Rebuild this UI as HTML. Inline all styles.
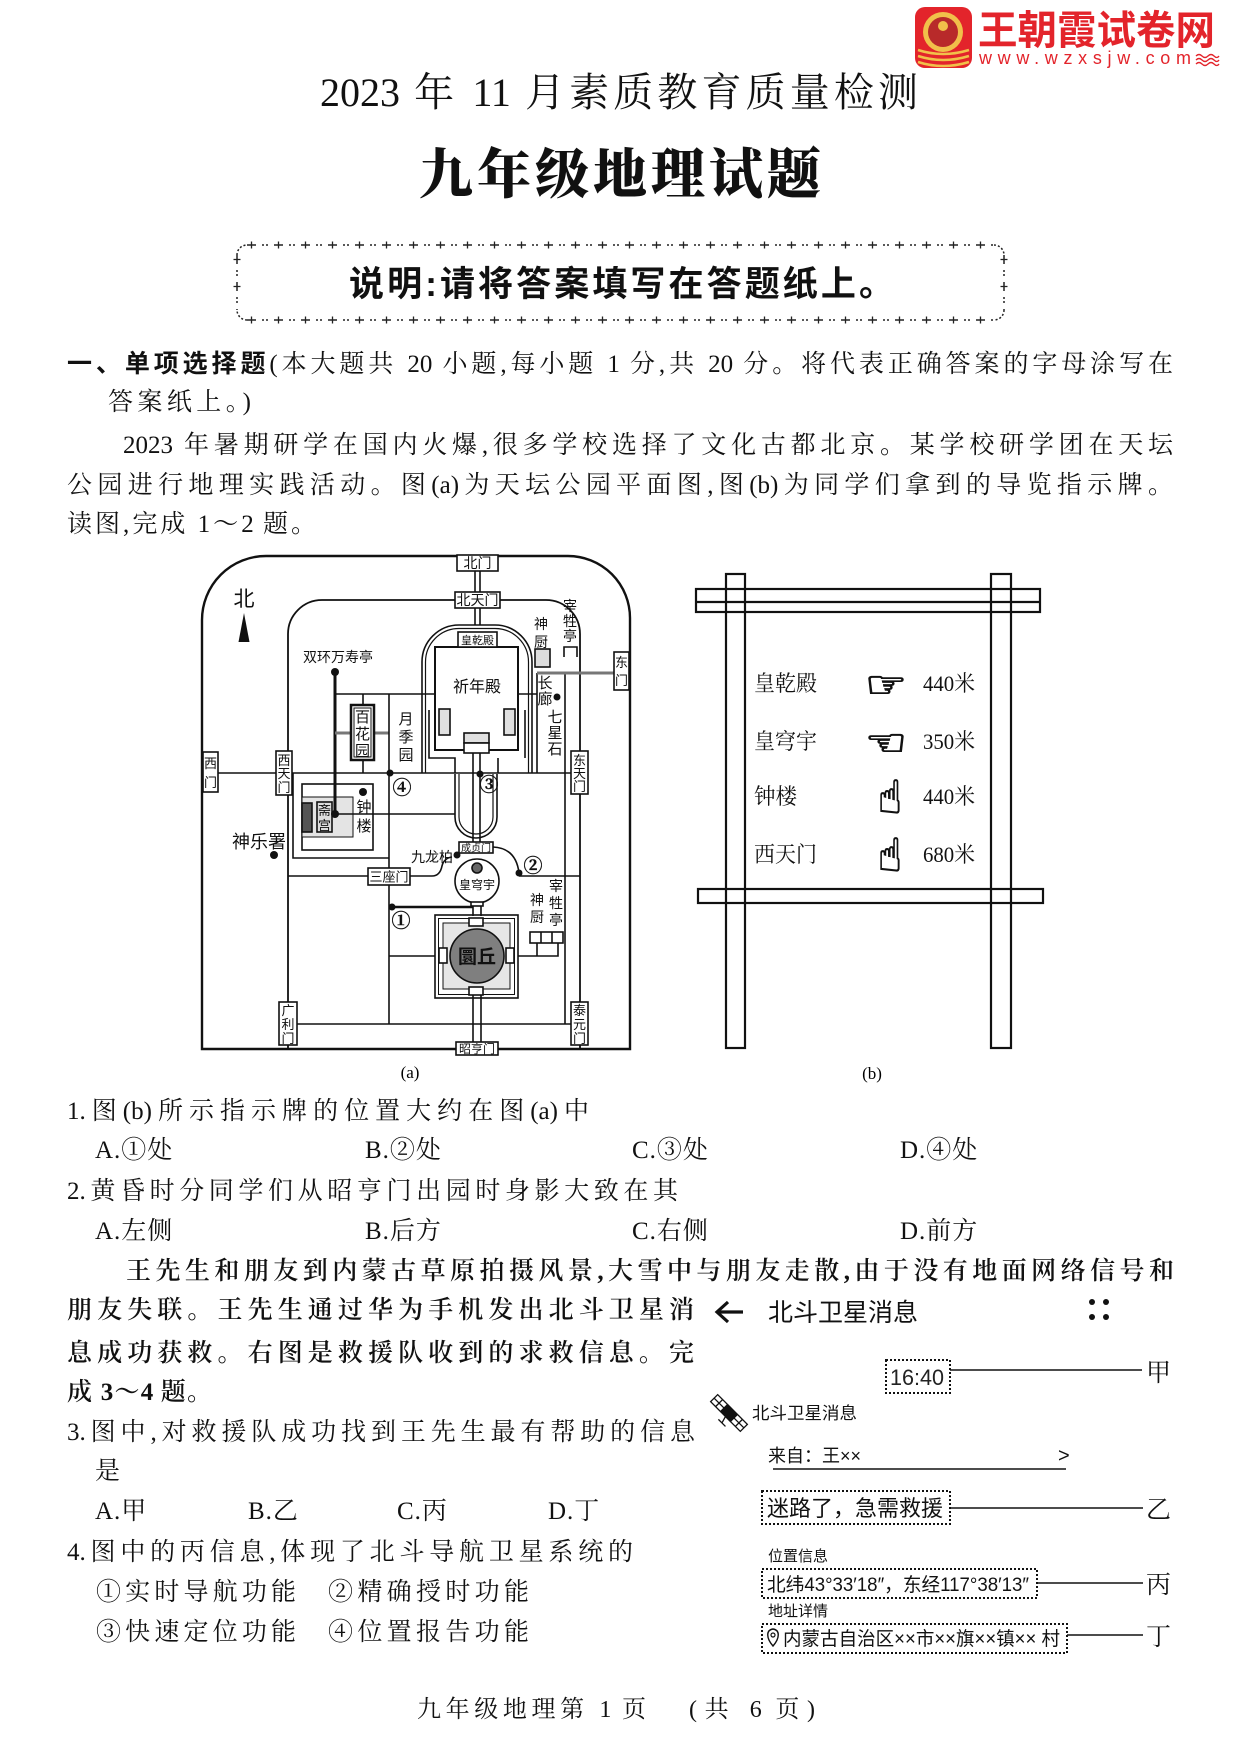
<!DOCTYPE html>
<html><head><meta charset="utf-8">
<style>
html,body{margin:0;padding:0;background:#fff;}
#pg{position:relative;width:1240px;height:1753px;overflow:hidden;background:#fff;}
svg{position:absolute;left:0;top:0;}
.t{position:absolute;line-height:1;font-size:25px;font-family:"Liberation Serif","Noto Serif CJK SC",serif;color:#111;text-align:justify;text-align-last:justify;}
.o{position:absolute;line-height:1;font-size:25px;font-family:"Liberation Serif","Noto Serif CJK SC",serif;color:#111;letter-spacing:1px;white-space:nowrap;}
.h{font-family:"Liberation Sans","Noto Sans CJK SC",sans-serif;font-weight:700;}
.w{font-weight:600;}
.s{font-family:"Liberation Serif","Noto Serif CJK SC",serif;}
.k{font-family:"Liberation Sans","Noto Sans CJK SC",sans-serif;}
.c{font-family:"Noto Serif CJK SC",serif;}
</style></head>
<body><div id="pg">
<svg width="1240" height="1753" viewBox="0 0 1240 1753" xmlns="http://www.w3.org/2000/svg">
<!-- logo -->
<rect x="915" y="7" width="57" height="61" rx="10" fill="#e3242b"/>
<circle cx="943" cy="32" r="20" fill="#f1c04a"/>
<circle cx="943" cy="32" r="15" fill="#b82a2a"/>
<circle cx="943" cy="26" r="5" fill="#f1c04a"/>
<path d="M918,50 Q943,58 969,50 M918,56 Q943,64 969,56 M918,62 Q943,70 969,62" stroke="#f1c04a" stroke-width="2.5" fill="none"/>
<text x="978" y="44" font-size="40" font-weight="700" fill="#e3242b" class="k" textLength="237" lengthAdjust="spacingAndGlyphs">王朝霞试卷网</text>
<text x="979" y="64" font-size="18" fill="#e3242b" class="k" textLength="212" lengthAdjust="spacing">www.wzxsjw.com</text>
<path d="M1196,56 q3,-3 6,0 t6,0 t6,0 t5,0 M1196,60 q3,-3 6,0 t6,0 t6,0 t5,0 M1196,64 q3,-3 6,0 t6,0 t6,0 t5,0" stroke="#e3242b" stroke-width="1.3" fill="none"/>

<!-- dashed instruction box -->
<g fill="none" stroke="#222">
<g stroke-width="1.5" stroke-dasharray="9 6 2 2 2 6">
<path d="M247,245 H994"/><path d="M247,320 H994"/>
<path d="M237,255 V310"/><path d="M1004,255 V310"/>
</g>
<g stroke-width="7" stroke-dasharray="1.3 25.7" stroke-dashoffset="-3.85">
<path d="M247,245 H994"/><path d="M247,320 H994"/>
<path d="M237,255 V310"/><path d="M1004,255 V310"/>
</g>
<g stroke-width="1.5" stroke-dasharray="2 2">
<path d="M237,255 A10,10 0 0 1 247,245"/><path d="M994,245 A10,10 0 0 1 1004,255"/>
<path d="M1004,310 A10,10 0 0 1 994,320"/><path d="M247,320 A10,10 0 0 1 237,310"/>
</g>
</g>

<!-- MAP (a) -->
<g fill="none" stroke="#111" stroke-width="1.6">
<path d="M202,1049 V620 A64,64 0 0 1 266,556 H568 A62,62 0 0 1 630,618 V1049 Z" stroke-width="2.4"/>
<path d="M288,1049 V634 A34,34 0 0 1 322,600 H546 A34,34 0 0 1 580,634 V1049" stroke-width="1.8"/>
<path d="M218,773 H276 M292,773 H571"/>
<path d="M475,571 V592 M480,571 V592 M475,608 V625 M480,608 V625"/>
<path d="M422,773 V662 A37,37 0 0 1 459,625 H495 A37,37 0 0 1 532,662 V773"/>
<path d="M425.5,773 V662 A33.5,33.5 0 0 1 459,628.5 H495 A33.5,33.5 0 0 1 528.5,662 V773" stroke-width="1.2"/>
<path d="M335,694 H435 M518,694 H537 V673 M537,673 V773"/>
<path d="M565,673 V1024"/>
<path d="M429,710 V758 H455 V773 M525,710 V758 M498,758 V773"/>
<path d="M455,774 V817 A21,21 0 0 0 497,817 V774"/>
<path d="M459,774 V817 A17,17 0 0 0 493,817 V774" stroke-width="1.2"/>
<path d="M473,750 V842 M480,750 V842"/>
<path d="M293,773 V858 H389"/>
<rect x="302" y="784" width="71" height="66"/>
<rect x="302" y="797" width="51" height="40" fill="#e4e4e4" stroke-width="1"/>
<rect x="302" y="803" width="10" height="29" fill="#555"/>
<rect x="317" y="802" width="15" height="30" fill="#ddd"/>
<path d="M335,814 H455"/>
<path d="M335,672 V814" stroke-width="3"/>
<path d="M363,694 V705 M363,760 V773"/>
<path d="M335,733 H351 M374,733 H389" stroke="#777" stroke-width="3"/>
<rect x="351" y="705" width="23" height="55" fill="#fff" stroke-width="2.5"/>
<rect x="354" y="708" width="17" height="49" stroke-width="1"/>
<path d="M389,694 V1024"/>
<path d="M288,876 H368 M519,876 H580"/>
<path d="M410,876 H432 Q440,876 442,866 Q444,858 452,857"/>
<path d="M493,847 Q516,848 519,873"/>
<path d="M389,907 H473" stroke-width="2.5"/>
<circle cx="477" cy="881" r="22" fill="#fff"/>
<circle cx="477" cy="868" r="5" fill="#666"/>
<rect x="471" y="902" width="12" height="4" fill="#fff"/>
<path d="M473,906 V916 M481,906 V916"/>
<rect x="435" y="915" width="83" height="83"/>
<rect x="438.5" y="918.5" width="76" height="76" stroke-width="1"/>
<rect x="443" y="923" width="67" height="66" fill="#e6e6e6" stroke-width="1"/>
<circle cx="477" cy="956" r="27" fill="#7f7f7f"/>
<rect x="439" y="948" width="8" height="15" fill="#fff"/>
<rect x="506" y="948" width="8" height="15" fill="#fff"/>
<rect x="469" y="918" width="14" height="8" fill="#fff"/>
<rect x="469" y="987" width="14" height="8" fill="#fff"/>
<path d="M389,956 H435 M518,956 H558 V943 M537,956 V943"/>
<rect x="530" y="932" width="33" height="11" fill="#fff"/>
<path d="M541,932 V943 M552,932 V943"/>
<path d="M473,995 V1042 M481,995 V1042"/>
<path d="M288,1024 H580"/>
<path d="M537,673 H614" stroke="#777" stroke-width="3"/>
<rect x="535" y="649" width="15" height="18" fill="#ddd"/>
<path d="M564,657 V647 H577 V657" />
<rect x="435" y="647" width="83" height="103" fill="#fff" stroke-width="2"/>
<rect x="439" y="709" width="11" height="26" fill="#e0e0e0"/>
<rect x="504" y="709" width="11" height="26" fill="#e0e0e0"/>
<rect x="464" y="733" width="25" height="10" fill="#e0e0e0"/>
<rect x="464" y="743" width="25" height="10" fill="#fff"/>
<rect x="458" y="632" width="39" height="15" fill="#fff"/>
<!-- gates -->
<rect x="457" y="555" width="41" height="16" fill="#fff"/>
<rect x="455" y="592" width="45" height="16" fill="#fff"/>
<rect x="203" y="752" width="15" height="40" fill="#fff"/>
<rect x="276" y="751" width="16" height="44" fill="#fff"/>
<rect x="614" y="652" width="15" height="38" fill="#fff"/>
<rect x="571" y="751" width="17" height="43" fill="#fff"/>
<rect x="279" y="1002" width="18" height="43" fill="#fff"/>
<rect x="571" y="1002" width="17" height="43" fill="#fff"/>
<rect x="456" y="1042" width="42" height="13" fill="#fff"/>
<rect x="368" y="868" width="42" height="17" fill="#fff"/>
<rect x="459" y="842" width="34" height="11" fill="#fff"/>
</g>
<g fill="#111">
<circle cx="335" cy="672" r="4"/><circle cx="335" cy="814" r="4"/>
<circle cx="363" cy="792" r="4"/><circle cx="390" cy="773" r="3.5"/>
<circle cx="480" cy="774" r="3.5"/><circle cx="557" cy="697" r="3.5"/>
<circle cx="274" cy="855" r="4"/><circle cx="457" cy="855" r="3.5"/>
<circle cx="519" cy="873" r="3.5"/><circle cx="392" cy="907" r="3.5"/>
<path d="M244,613 L249.5,642 H238.5 Z"/>
</g>
<g class="k" fill="#111" text-anchor="middle">
<text x="244" y="606" font-size="21">北</text>
<text x="338" y="662" font-size="14">双环万寿亭</text>
<text x="477" y="692" font-size="16">祈年殿</text>
<text x="259" y="848" font-size="18">神乐署</text>
<text x="453" y="862" font-size="14" text-anchor="end">九龙柏</text>
<text x="477" y="889" font-size="12">皇穹宇</text>
<text x="477" y="963" font-size="19" font-weight="700">圜丘</text>
<text x="477.5" y="568" font-size="14">北门</text>
<text x="477.5" y="605" font-size="14">北天门</text>
<text x="477" y="1053" font-size="12">昭亨门</text>
<text x="389" y="881.5" font-size="13">三座门</text>
<text x="476" y="851.5" font-size="10">成贞门</text>
<text x="477.5" y="644" font-size="11">皇乾殿</text>
<g font-size="13">
<text x="210.5" y="768">西</text><text x="210.5" y="787">门</text>
<text x="284" y="765">西</text><text x="284" y="778">天</text><text x="284" y="792">门</text>
<text x="621.5" y="667">东</text><text x="621.5" y="685">门</text>
<text x="579.5" y="765">东</text><text x="579.5" y="778">天</text><text x="579.5" y="791">门</text>
<text x="288" y="1015">广</text><text x="288" y="1029">利</text><text x="288" y="1043">门</text>
<text x="579.5" y="1015">泰</text><text x="579.5" y="1029">元</text><text x="579.5" y="1043">门</text>
<text x="324.5" y="815">斋</text><text x="324.5" y="830">宫</text>
</g>
<g font-size="15">
<text x="362.5" y="722">百</text><text x="362.5" y="739">花</text><text x="362.5" y="756">园</text>
<text x="406" y="724">月</text><text x="406" y="742">季</text><text x="406" y="760">园</text>
<text x="364" y="812">钟</text><text x="364" y="831">楼</text>
<text x="545" y="688">长</text><text x="545" y="704">廊</text>
<text x="555" y="722">七</text><text x="555" y="738">星</text><text x="555" y="754">石</text>
</g>
<g font-size="14">
<text x="541" y="629">神</text><text x="541" y="647">厨</text>
<text x="570" y="611">宰</text><text x="570" y="626">牲</text><text x="570" y="641">亭</text>
<text x="537" y="905">神</text><text x="537" y="922">厨</text>
<text x="556" y="891">宰</text><text x="556" y="908">牲</text><text x="556" y="925">亭</text>
</g>
</g>
<g class="c" fill="#111" text-anchor="middle" font-size="19" font-weight="700" stroke="#111" stroke-width="0.4">
<text x="401" y="927">①</text><text x="533" y="872">②</text>
<text x="489" y="791">③</text><text x="402" y="794">④</text>
</g>
<text x="410" y="1078" font-size="17" class="s" text-anchor="middle">(a)</text>
<text x="872" y="1079" font-size="17" class="s" text-anchor="middle">(b)</text>

<!-- SIGN (b) -->
<g fill="none" stroke="#111" stroke-width="2.2">
<rect x="726" y="574" width="19" height="474"/>
<rect x="991" y="574" width="20" height="474"/>
<rect x="696" y="589" width="344" height="23"/>
<path d="M696,602 H1040"/>
<rect x="698" y="889" width="345" height="14"/>
</g>
<g class="s" fill="#111" font-size="22">
<text x="754" y="691" textLength="63" lengthAdjust="spacingAndGlyphs">皇乾殿</text>
<text x="754" y="749" textLength="63" lengthAdjust="spacingAndGlyphs">皇穹宇</text>
<text x="754" y="804" textLength="43" lengthAdjust="spacingAndGlyphs">钟楼</text>
<text x="754" y="862" textLength="63" lengthAdjust="spacingAndGlyphs">西天门</text>
<text x="923" y="691" textLength="52" lengthAdjust="spacingAndGlyphs">440米</text>
<text x="923" y="749" textLength="52" lengthAdjust="spacingAndGlyphs">350米</text>
<text x="923" y="804" textLength="52" lengthAdjust="spacingAndGlyphs">440米</text>
<text x="923" y="862" textLength="52" lengthAdjust="spacingAndGlyphs">680米</text>
</g>
<g fill="#111" stroke="#111" stroke-width="1.2" font-family="DejaVu Sans, sans-serif">
<text x="865" y="697" font-size="36" textLength="42" lengthAdjust="spacingAndGlyphs">☞</text>
<text x="865" y="755" font-size="36" textLength="42" lengthAdjust="spacingAndGlyphs">☜</text>
<text x="878" y="813" font-size="46" textLength="24" lengthAdjust="spacingAndGlyphs">☝</text>
<text x="878" y="871" font-size="46" textLength="24" lengthAdjust="spacingAndGlyphs">☝</text>
</g>

<!-- PHONE MESSAGE -->
<path d="M718,1312 H743 M728,1302 L717,1312 L728,1322" stroke="#111" stroke-width="3.2" fill="none"/>
<text x="768" y="1321" font-size="25" class="k" fill="#111" textLength="150" lengthAdjust="spacingAndGlyphs">北斗卫星消息</text>
<g fill="#111"><circle cx="1092" cy="1302" r="3"/><circle cx="1106" cy="1302" r="3"/><circle cx="1092" cy="1317" r="3"/><circle cx="1106" cy="1317" r="3"/></g>
<g fill="none" stroke="#111" stroke-width="2" stroke-dasharray="2 2">
<rect x="886" y="1360" width="64" height="33"/>
<rect x="762" y="1491" width="188" height="33"/>
<rect x="762" y="1569" width="275" height="29"/>
<rect x="762" y="1624" width="305" height="29"/>
</g>
<g stroke="#111" stroke-width="1.5" fill="none">
<path d="M950,1370 H1142"/>
<path d="M950,1508 H1143"/>
<path d="M1037,1583 H1143"/>
<path d="M1067,1635 H1143"/>
<path d="M773,1469 H1066"/>
</g>
<text x="917" y="1385" font-size="22" class="k" fill="#222" text-anchor="middle" textLength="54" lengthAdjust="spacingAndGlyphs">16:40</text>
<g class="s" fill="#111" font-size="25">
<text x="1146" y="1381">甲</text>
<text x="1146" y="1518">乙</text>
<text x="1146" y="1593">丙</text>
<text x="1146" y="1645">丁</text>
</g>
<!-- satellite -->
<g transform="translate(729,1413) rotate(-45)" stroke="#111" stroke-width="1.3" fill="#fff">
<rect x="-5" y="-21" width="10" height="14"/>
<path d="M-5,-14 H5 M0,-21 V-7"/>
<rect x="-5" y="7" width="10" height="14"/>
<path d="M-5,14 H5 M0,7 V21"/>
<rect x="-5" y="-6" width="10" height="12" fill="#111"/>
<path d="M-5,0 L-12,2 M-12,-3 V7" fill="none"/>
</g>
<g class="k" fill="#111">
<text x="752" y="1419" font-size="17" textLength="105" lengthAdjust="spacingAndGlyphs">北斗卫星消息</text>
<text x="768" y="1462" font-size="18">来自：王××</text>
<text x="1058" y="1462" font-size="20">&gt;</text>
<text x="767" y="1516" font-size="22" textLength="176" lengthAdjust="spacingAndGlyphs">迷路了，急需救援</text>
<text x="768" y="1561" font-size="15">位置信息</text>
<text x="767" y="1591" font-size="19" textLength="262" lengthAdjust="spacingAndGlyphs">北纬43°33′18″，东经117°38′13″</text>
<text x="768" y="1616" font-size="15">地址详情</text>
<text x="783" y="1645" font-size="19" textLength="277" lengthAdjust="spacingAndGlyphs">内蒙古自治区××市××旗××镇×× 村</text>
</g>
<path d="M773,1646 C766,1638 766,1630 773,1629 C780,1630 780,1638 773,1646 Z" fill="none" stroke="#111" stroke-width="1.4"/>
<circle cx="773" cy="1635" r="2" fill="none" stroke="#111" stroke-width="1.2"/>
</svg>

<!-- Titles -->
<div class="t" style="left:320px;top:73px;width:598px;font-size:40px;">2023 年 11 月素质教育质量检测</div>
<div class="t" style="left:419px;top:148px;width:402px;font-size:54px;font-weight:900;">九年级地理试题</div>
<div class="t h" style="left:349px;top:267px;width:545px;font-size:35px;">说明:请将答案填写在答题纸上。</div>

<!-- Section text -->
<div class="t" style="left:67px;top:352px;width:1106px;"><span class="h">一、单项选择题</span>(本大题共 20 小题,每小题 1 分,共 20 分。将代表正确答案的字母涂写在</div>
<div class="t" style="left:108px;top:390px;width:143px;">答案纸上。)</div>
<div class="t" style="left:123px;top:433px;width:1050px;">2023 年暑期研学在国内火爆,很多学校选择了文化古都北京。某学校研学团在天坛</div>
<div class="t" style="left:67px;top:473px;width:1106px;">公园进行地理实践活动。图(a)为天坛公园平面图,图(b)为同学们拿到的导览指示牌。</div>
<div class="t" style="left:67px;top:512px;width:249px;">读图,完成 1～2 题。</div>

<div class="t" style="left:67px;top:1099px;width:522px;">1.图(b)所示指示牌的位置大约在图(a)中</div>
<div class="o" style="left:95px;top:1138px;">A.①处</div>
<div class="o" style="left:365px;top:1138px;">B.②处</div>
<div class="o" style="left:632px;top:1138px;">C.③处</div>
<div class="o" style="left:900px;top:1138px;">D.④处</div>
<div class="t" style="left:67px;top:1179px;width:611px;">2.黄昏时分同学们从昭亨门出园时身影大致在其</div>
<div class="o" style="left:95px;top:1219px;">A.左侧</div>
<div class="o" style="left:365px;top:1219px;">B.后方</div>
<div class="o" style="left:632px;top:1219px;">C.右侧</div>
<div class="o" style="left:900px;top:1219px;">D.前方</div>

<div class="t w" style="left:126px;top:1259px;width:1048px;">王先生和朋友到内蒙古草原拍摄风景,大雪中与朋友走散,由于没有地面网络信号和</div>
<div class="t w" style="left:67px;top:1298px;width:627px;">朋友失联。王先生通过华为手机发出北斗卫星消</div>
<div class="t w" style="left:67px;top:1341px;width:627px;">息成功获救。右图是救援队收到的求救信息。完</div>
<div class="t w" style="left:67px;top:1380px;width:145px;">成 3～4 题。</div>

<div class="t" style="left:67px;top:1420px;width:628px;">3.图中,对救援队成功找到王先生最有帮助的信息</div>
<div class="o" style="left:95px;top:1459px;">是</div>
<div class="o" style="left:95px;top:1499px;">A.甲</div>
<div class="o" style="left:248px;top:1499px;">B.乙</div>
<div class="o" style="left:397px;top:1499px;">C.丙</div>
<div class="o" style="left:548px;top:1499px;">D.丁</div>
<div class="t" style="left:67px;top:1540px;width:566px;">4.图中的丙信息,体现了北斗导航卫星系统的</div>
<div class="t" style="left:96px;top:1580px;width:200px;">①实时导航功能</div>
<div class="t" style="left:328px;top:1580px;width:201px;">②精确授时功能</div>
<div class="t" style="left:96px;top:1620px;width:200px;">③快速定位功能</div>
<div class="t" style="left:328px;top:1620px;width:201px;">④位置报告功能</div>

<div class="t" style="left:417px;top:1698px;width:229px;font-size:24px;">九年级地理第 1 页</div>
<div class="t" style="left:689px;top:1698px;width:126px;font-size:24px;">(共 6 页)</div>
</div></body></html>
